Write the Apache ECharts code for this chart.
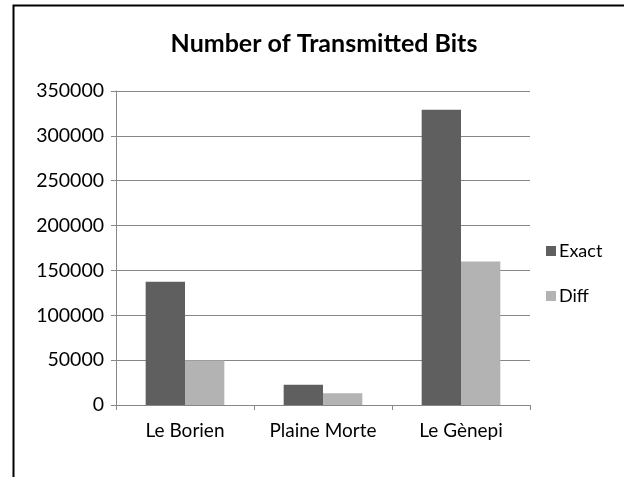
<!DOCTYPE html>
<html>
<head>
<meta charset="utf-8">
<script src="https://cdn.jsdelivr.net/npm/echarts@6/dist/echarts.min.js"></script>
<style>html,body{margin:0;padding:0;background:#fff}#c{width:624px;height:477px}</style>
</head>
<body>
<div id="c"></div>
<script>
const categories = ['Le Borien', 'Plaine Morte', 'Le Gènepi'];
const exactValues = [137500, 22500, 329000];
const diffValues = [49500, 13000, 160000];
const seriesNames = ['Exact', 'Diff'];
const titleText = 'Number of Transmitted Bits';

const chart = echarts.init(document.getElementById('c'), null, {renderer: 'canvas'});
const FONT = 'Lato';
const gray = '#878787';
chart.setOption({
  animation: false,
  backgroundColor: '#fff',
  title: {
    text: titleText,
    left: 319, top: 26, textAlign: 'center',
    textStyle: {fontFamily: FONT, fontWeight: 'bold', fontSize: 25, color: '#000'}
  },
  legend: {
    orient: 'vertical', left: 541, top: 237,
    itemWidth: 10, itemHeight: 10, itemGap: 27,
    icon: 'rect',
    textStyle: {fontFamily: FONT, fontSize: 18, color: '#000', padding: [0,0,0,-2]},
    data: seriesNames
  },
  grid: {left: 116, right: 94, top: 91, bottom: 72, containLabel: false},
  xAxis: {
    type: 'category', data: categories,
    axisLine: {lineStyle: {color: gray, width: 1}},
    axisTick: {show: true, length: 5, lineStyle: {color: gray}},
    axisLabel: {fontFamily: FONT, fontSize: 19, color: '#000', margin: 16,
                interval: 0, hideOverlap: false}
  },
  yAxis: {
    type: 'value', min: 0, max: 350000, interval: 50000,
    axisLine: {show: true, lineStyle: {color: gray, width: 1}},
    axisTick: {show: true, length: 5, lineStyle: {color: gray}},
    splitLine: {lineStyle: {color: gray, width: 1}},
    axisLabel: {fontFamily: FONT, fontSize: 19.5, color: '#000', margin: 12,
                formatter: function (v) { return String(v); }}
  },
  series: [
    {name: seriesNames[0], type: 'bar', data: exactValues, barGap: '0%', barCategoryGap: '43%',
     itemStyle: {color: '#5f5f5f'}},
    {name: seriesNames[1], type: 'bar', data: diffValues, barGap: '0%', barCategoryGap: '43%',
     itemStyle: {color: '#b3b3b3'}}
  ],
  graphic: [{
    type: 'rect', left: 11, top: 3, z: 100,
    shape: {x: 0, y: 0, width: 700, height: 600},
    style: {fill: 'none', stroke: '#000', lineWidth: 2}
  }]
});
</script>
</body>
</html>
